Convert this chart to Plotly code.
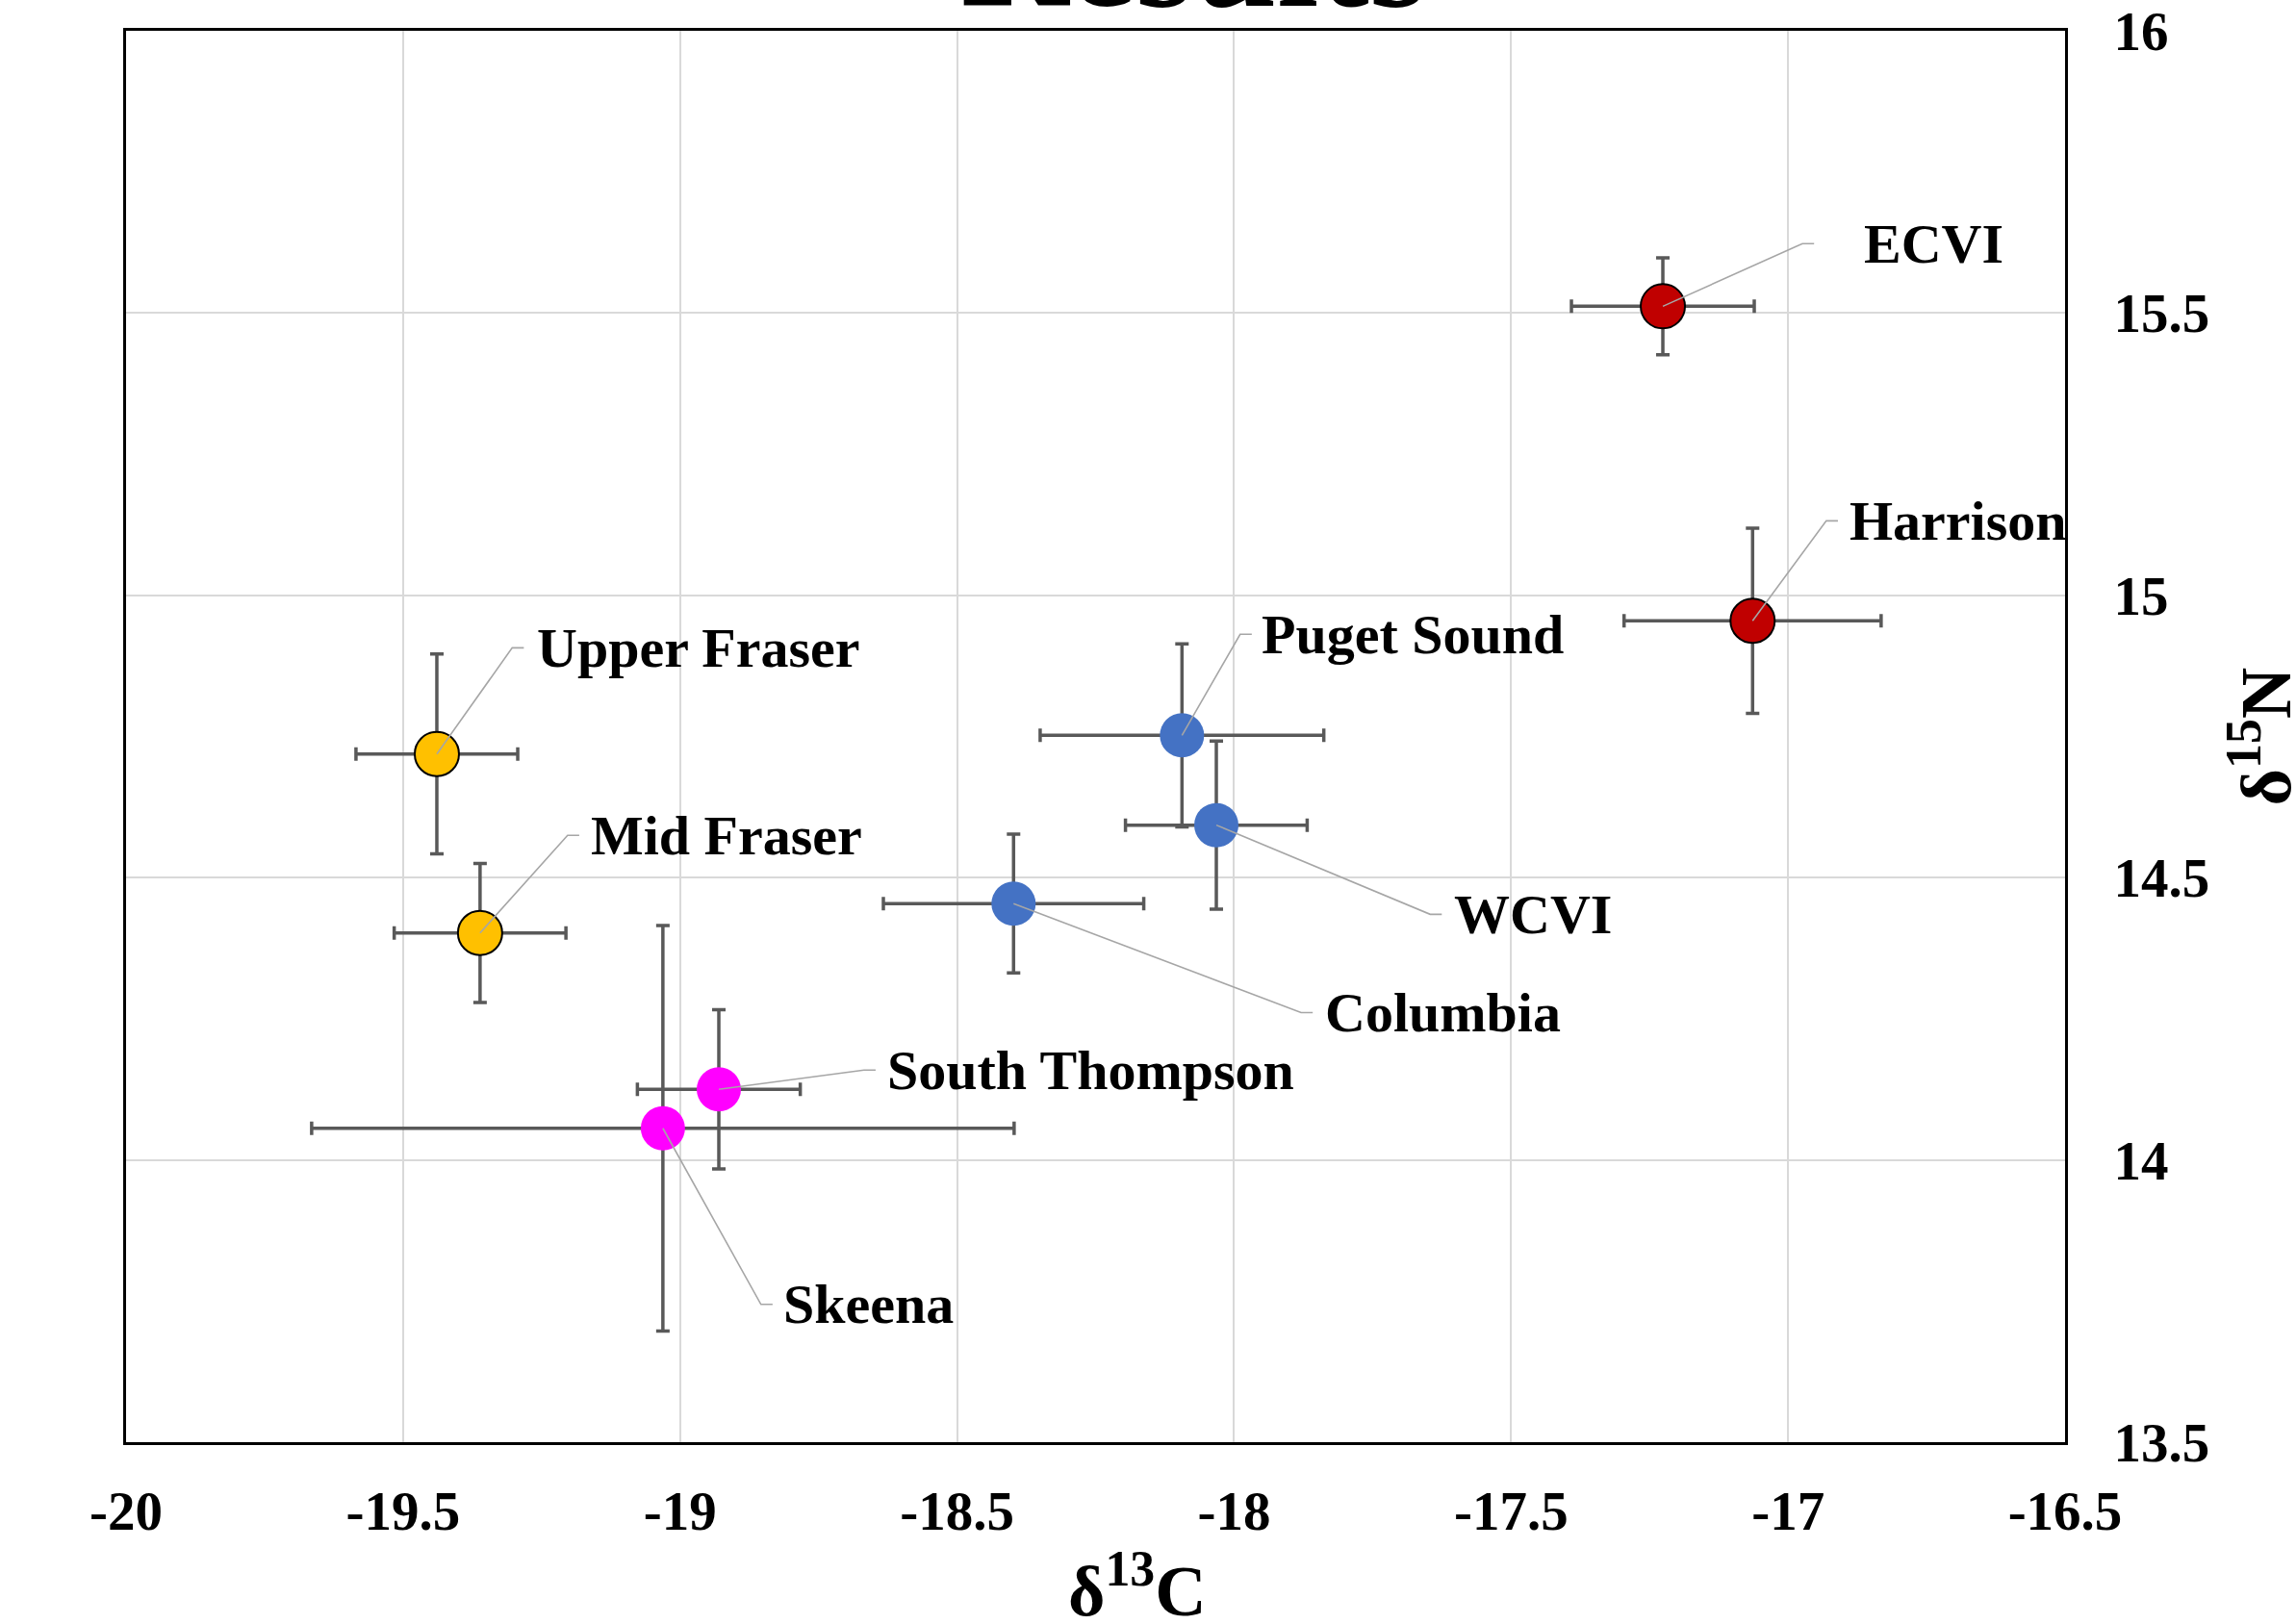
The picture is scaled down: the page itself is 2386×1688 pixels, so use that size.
import plotly.graph_objects as go

# ---- data ----
populations = ["ECVI", "Harrison", "Puget Sound", "WCVI", "Columbia",
               "Upper Fraser", "Mid Fraser", "South Thompson", "Skeena"]
groups = ["red", "red", "blue", "blue", "blue", "orange", "orange", "magenta", "magenta"]
d13C = [-17.226, -17.064, -18.094, -18.032, -18.398, -19.439, -19.361, -18.930, -19.031]
d15N = [15.512, 14.955, 14.752, 14.593, 14.454, 14.719, 14.402, 14.125, 14.056]
d13C_sd = [0.165, 0.232, 0.256, 0.164, 0.235, 0.146, 0.155, 0.147, 0.634]
d15N_sd = [0.086, 0.164, 0.162, 0.149, 0.123, 0.177, 0.123, 0.141, 0.359]

x_ticks = [-20, -19.5, -19, -18.5, -18, -17.5, -17, -16.5]
y_ticks = [13.5, 14, 14.5, 15, 15.5, 16]

# label placement (data coords): elbow x, elbow y, text x
label_elbow_x = [-16.974, -16.931, -17.989, -17.646, -17.879, -19.303, -19.203, -18.668, -18.854]
label_elbow_y = [15.623, 15.132, 14.931, 14.435, 14.261, 14.907, 14.575, 14.159, 13.744]
label_text_x = [-16.866, -16.892, -17.954, -17.606, -17.839, -19.262, -19.164, -18.630, -18.817]
leader_tail = 0.021

# ---- styles ----
group_style = {
    "red": dict(color="#C00000", line=dict(color="black", width=2)),
    "orange": dict(color="#FFC000", line=dict(color="black", width=2)),
    "blue": dict(color="#4472C4", line=dict(color="#4472C4", width=0)),
    "magenta": dict(color="#FF00FF", line=dict(color="#FF00FF", width=0)),
}
FONT = "Liberation Serif, Times New Roman, serif"

fig = go.Figure()

# points with error bars (one trace per point so later markers overlap earlier bars)
for i, name in enumerate(populations):
    st = group_style[groups[i]]
    fig.add_trace(go.Scatter(
        x=[d13C[i]], y=[d15N[i]], mode="markers", name=name,
        marker=dict(size=46, color=st["color"], line=st["line"]),
        error_x=dict(type="data", array=[d13C_sd[i]], color="#595959", thickness=3.5, width=7),
        error_y=dict(type="data", array=[d15N_sd[i]], color="#595959", thickness=3.5, width=7),
        showlegend=False, hoverinfo="skip",
    ))

# leader lines
for i, name in enumerate(populations):
    fig.add_trace(go.Scatter(
        x=[d13C[i], label_elbow_x[i], label_elbow_x[i] + leader_tail],
        y=[d15N[i], label_elbow_y[i], label_elbow_y[i]],
        mode="lines", line=dict(color="#A6A6A6", width=1.6),
        showlegend=False, hoverinfo="skip",
    ))

annotations = []
for i, name in enumerate(populations):
    annotations.append(dict(
        x=label_text_x[i], y=label_elbow_y[i], xref="x", yref="y",
        text=name, showarrow=False, xanchor="left", yanchor="middle",
        font=dict(family=FONT, size=58, color="black", weight="bold"),
    ))

# chart title (mostly cut off at top in the original)
annotations.append(dict(
    x=0.5504, y=0.9932, xref="paper", yref="paper", text="Results",
    showarrow=False, xanchor="center", yanchor="bottom",
    font=dict(family=FONT, size=156, color="black", weight="bold"),
))
# axis titles
annotations.append(dict(
    x=0.5216, y=-0.1016, xref="paper", yref="paper", text="δ<sup>13</sup>C",
    showarrow=False, xanchor="center", yanchor="middle",
    font=dict(family=FONT, size=74, color="black", weight="bold"),
))
annotations.append(dict(
    x=1.1012, y=0.5, xref="paper", yref="paper", text="δ<sup>15</sup>N",
    showarrow=False, xanchor="center", yanchor="middle", textangle=-90,
    font=dict(family=FONT, size=74, color="black", weight="bold"),
))

fig.update_layout(
    width=2386, height=1688,
    margin=dict(l=131, r=240, t=32, b=189, autoexpand=False),
    paper_bgcolor="white", plot_bgcolor="white",
    annotations=annotations,
    xaxis=dict(
        range=[-20, -16.5], tickvals=x_ticks, ticktext=[f"{v:g}" for v in x_ticks],
        showgrid=True, gridcolor="#D9D9D9", gridwidth=2,
        showline=True, linecolor="black", linewidth=3, mirror=True,
        zeroline=False, ticks="", ticklabelstandoff=20, automargin=False,
        ticklabeloverflow="allow",
        tickfont=dict(family=FONT, size=57, color="black", weight="bold"),
    ),
    yaxis=dict(
        range=[13.5, 16], tickvals=y_ticks, ticktext=[f"{v:g}" for v in y_ticks],
        side="right",
        showgrid=True, gridcolor="#D9D9D9", gridwidth=2,
        showline=True, linecolor="black", linewidth=3, mirror=True,
        zeroline=False, ticks="", ticklabelstandoff=36, automargin=False,
        ticklabeloverflow="allow",
        tickfont=dict(family=FONT, size=57, color="black", weight="bold"),
    ),
)

fig.write_html("out.html", config={"displayModeBar": False},
               post_script="document.body.style.margin='0';")
